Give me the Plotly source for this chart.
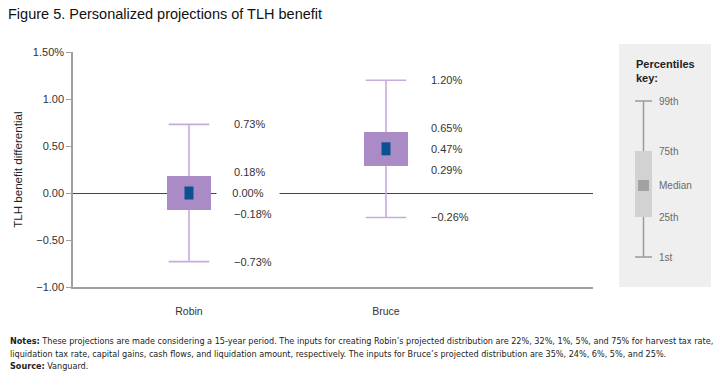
import plotly.graph_objects as go

# ---- data ----
names = ["Robin", "Bruce"]
p1 = [-0.73, -0.26]
p25 = [-0.18, 0.29]
median = [0.00, 0.47]
p75 = [0.18, 0.65]
p99 = [0.73, 1.20]

y_tickvals = [-1.0, -0.5, 0.0, 0.5, 1.0, 1.5]
y_ticktext = ["\u22121.00", "\u22120.50", "0.00", "0.50", "1.00", "1.50%"]

title = "Figure 5. Personalized projections of TLH benefit"
ytitle = "TLH benefit differential"
notes1 = ("<b>Notes:</b> These projections are made considering a 15-year period. The inputs for creating Robin\u2019s "
          "projected distribution are 22%, 32%, 1%, 5%, and 75% for harvest tax rate,")
notes2 = ("liquidation tax rate, capital gains, cash flows, and liquidation amount, respectively. The inputs for "
          "Bruce\u2019s projected distribution are 35%, 24%, 6%, 5%, and 25%.")
source = "<b>Source:</b> Vanguard."

BOX = "#AA8BC5"
WHISK = "#C7ABDA"
MED = "#0D5290"
FONT = "Liberation Sans"
NARROW = "DejaVu Sans Condensed"

def fmt(v):
    s = f"{abs(v):.2f}%"
    return ("\u2212" + s) if v < 0 else s

fig = go.Figure()

# whiskers (lines)
wx, wy = [], []
for i, n in enumerate(names):
    wx += [n, n, None, n, n, None]
    wy += [p75[i], p99[i], None, p25[i], p1[i], None]
fig.add_trace(go.Scatter(x=wx, y=wy, mode="lines", line=dict(color=WHISK, width=1.6),
                         hoverinfo="skip", showlegend=False))
# caps
fig.add_trace(go.Scatter(x=names + names, y=p99 + p1, mode="markers",
                         marker=dict(symbol="line-ew", size=29, color=WHISK,
                                     line=dict(color=WHISK, width=1.6)),
                         hoverinfo="skip", showlegend=False))
# boxes
fig.add_trace(go.Bar(x=names, base=p25, y=[a - b for a, b in zip(p75, p25)], width=0.223,
                     marker=dict(color=BOX, line=dict(width=0)), showlegend=False, hoverinfo="skip"))
# medians
fig.add_trace(go.Scatter(x=names, y=median, mode="markers",
                         marker=dict(symbol="line-ns", size=9.3, color=MED,
                                     line=dict(color=MED, width=9)),
                         hoverinfo="skip", showlegend=False))

annotations = []
for i, n in enumerate(names):
    vals = [(p99[i], 0), (p75[i], 4), (median[i], 0), (p25[i], -4), (p1[i], 0)]
    for v, ys in vals:
        a = dict(x=n, y=v, xref="x", yref="y", text=fmt(v), showarrow=False,
                 xanchor="left", yanchor="middle", xshift=43, yshift=ys,
                 font=dict(family=FONT, size=11, color="#333333"))
        if abs(v) < 1e-9:
            a.update(bgcolor="white", width=62, align="center", xshift=27, borderpad=0)
        annotations.append(a)

# y axis title
annotations.append(dict(x=-0.106, y=0.498, xref="paper", yref="paper", text=ytitle, textangle=-90,
                        showarrow=False, xanchor="center", yanchor="middle",
                        font=dict(family=FONT, size=11.6, color="#222222")))
# notes
for txt, yp in [(notes1, -0.2298), (notes2, -0.2851), (source, -0.3362)]:
    annotations.append(dict(x=-0.125, y=yp, xref="paper", yref="paper", text=txt, showarrow=False,
                            xanchor="left", yanchor="middle",
                            font=dict(family=NARROW, size=9, color="#222222")))

# percentile key panel
def px(x):
    return (x - 73) / 520.0

def py(y):
    return (287 - y) / 235.0

shapes = [
    dict(type="rect", xref="paper", yref="paper", x0=px(619), x1=px(711), y0=py(287), y1=py(44),
         fillcolor="#EFEFEF", line=dict(width=0), layer="below"),
    dict(type="line", xref="paper", yref="paper", x0=px(643.5), x1=px(643.5), y0=py(101), y1=py(257),
         line=dict(color="#9A9A9A", width=1.5)),
    dict(type="line", xref="paper", yref="paper", x0=px(635), x1=px(652), y0=py(101), y1=py(101),
         line=dict(color="#9A9A9A", width=1.5)),
    dict(type="line", xref="paper", yref="paper", x0=px(635), x1=px(652), y0=py(257), y1=py(257),
         line=dict(color="#9A9A9A", width=1.5)),
    dict(type="rect", xref="paper", yref="paper", x0=px(635), x1=px(652), y0=py(217), y1=py(151),
         fillcolor="#D2D2D2", line=dict(width=0)),
    dict(type="rect", xref="paper", yref="paper", x0=px(638), x1=px(649), y0=py(191), y1=py(180),
         fillcolor="#A2A2A2", line=dict(width=0)),
]
annotations.append(dict(x=px(634), y=py(56), xref="paper", yref="paper", text="<b>Percentiles<br>key:</b>",
                        showarrow=False, xanchor="left", yanchor="top", align="left",
                        font=dict(family=FONT, size=11, color="#222222")))
for lab, yy in [("99th", 101), ("75th", 151), ("Median", 185), ("25th", 217), ("1st", 257)]:
    annotations.append(dict(x=px(657), y=py(yy), xref="paper", yref="paper", text=lab, showarrow=False,
                            xanchor="left", yanchor="middle",
                            font=dict(family=FONT, size=10, color="#6A6A6A")))

fig.update_layout(
    width=720, height=385,
    margin=dict(l=73, r=127, t=52, b=98),
    paper_bgcolor="white", plot_bgcolor="white",
    title=dict(text=title, xref="container", yref="container", x=8 / 720, y=1 - 14 / 385,
               xanchor="left", yanchor="middle", font=dict(family=FONT, size=14.5, color="#111111")),
    xaxis=dict(type="category", categoryarray=names, range=[-0.5888, 2.0508], showgrid=False,
               zeroline=False, showline=True, linecolor="#A0A0A0", linewidth=1.5, ticks="",
               ticklabelstandoff=14, tickfont=dict(family=FONT, size=10.5, color="#333333"),
               fixedrange=True),
    yaxis=dict(range=[-1.0, 1.5], tickvals=y_tickvals, ticktext=y_ticktext, showgrid=False,
               zeroline=True, zerolinecolor="#444444", zerolinewidth=1.2,
               showline=True, linecolor="#A0A0A0", linewidth=1.5, ticks="outside", ticklen=5,
               tickcolor="#A0A0A0", tickwidth=1.2,
               tickfont=dict(family=FONT, size=11, color="#333333"), fixedrange=True),
    annotations=annotations,
    shapes=shapes,
    bargap=0,
)

fig.write_html("out.html", config={"displayModeBar": False},
               post_script="document.body.style.margin='0';document.body.style.padding='0';")
